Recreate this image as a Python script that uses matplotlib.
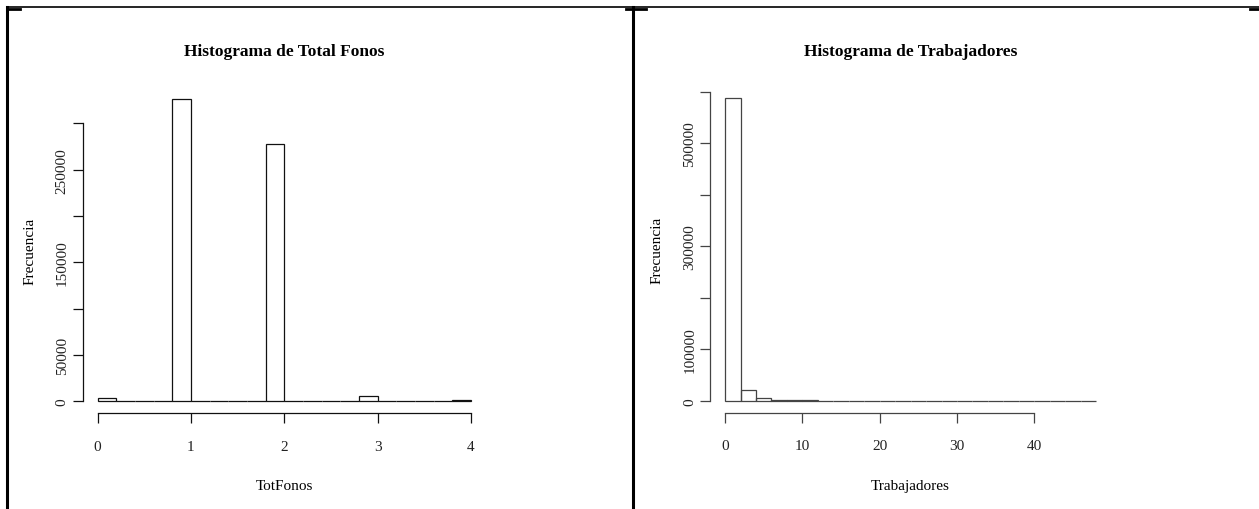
import numpy as np
import matplotlib
matplotlib.use("Agg")
import matplotlib.pyplot as plt

plt.rcParams['font.family'] = ['Liberation Serif', 'DejaVu Serif']

# histogram of TotFonos (bins of width 0.2 from 0 to 4)
fonos_edges = [0.0, 0.2, 0.4, 0.6, 0.8, 1.0, 1.2, 1.4, 1.6, 1.8, 2.0,
               2.2, 2.4, 2.6, 2.8, 3.0, 3.2, 3.4, 3.6, 3.8, 4.0]
fonos_counts = [3200, 0, 0, 0, 326500, 0, 0, 0, 0, 277400,
                0, 0, 0, 0, 5400, 0, 0, 0, 0, 1000]
fonos_yticks = [0, 50000, 100000, 150000, 200000, 250000, 300000]
fonos_ylabels = ['0', '50000', '', '150000', '', '250000', '']
fonos_xticks = [0, 1, 2, 3, 4]

# histogram of Trabajadores (bins of width 2 from 0 to 48)
trab_edges = [0, 2, 4, 6, 8, 10, 12, 14, 16, 18, 20, 22, 24, 26, 28, 30,
              32, 34, 36, 38, 40, 42, 44, 46, 48]
trab_counts = [587200, 21500, 4600, 1600, 1000, 700, 0, 0, 0, 0, 0, 0,
               0, 0, 0, 0, 0, 0, 0, 0, 0, 0, 0, 5]
trab_yticks = [0, 100000, 200000, 300000, 400000, 500000, 600000]
trab_ylabels = ['0', '100000', '', '300000', '', '500000', '']
trab_xticks = [0, 10, 20, 30, 40]

W, H = 1259, 510
fig = plt.figure(figsize=(W / 100, H / 100), dpi=100)


def px_axes(x0, y0, x1, y1):
    # axes placed by pixel box (top-left origin)
    return fig.add_axes([x0 / W, 1 - y1 / H, (x1 - x0) / W, (y1 - y0) / H])


def r_hist(ax, edges, counts, xticks, yticks, ylabels, title, xlabel, col):
    edges = np.array(edges, dtype=float)
    counts = np.array(counts, dtype=float)
    ax.bar(edges[:-1], counts, width=np.diff(edges), align='edge',
           fill=False, edgecolor=col, linewidth=0.9)
    xr = edges[-1] - edges[0]
    ax.set_xlim(edges[0] - 0.04 * xr, edges[-1] + 0.04 * xr)
    top = counts.max()
    ax.set_ylim(-0.04 * top, 1.04 * top)
    for s in ['top', 'right']:
        ax.spines[s].set_visible(False)
    ax.spines['left'].set_bounds(yticks[0], yticks[-1])
    ax.spines['bottom'].set_bounds(xticks[0], xticks[-1])
    for s in ['left', 'bottom']:
        ax.spines[s].set_color(col)
        ax.spines[s].set_linewidth(0.9)
    ax.set_xticks(xticks)
    ax.set_xticklabels([str(t) for t in xticks])
    ax.set_yticks(yticks)
    ax.set_yticklabels(ylabels, rotation=90, va='center')
    ax.tick_params(axis='x', length=7, width=0.9, color=col, pad=12,
                   labelsize=11, labelcolor='#222222')
    ax.tick_params(axis='y', length=7, width=0.9, color=col, pad=3,
                   labelsize=11, labelcolor='#222222')
    ax.set_title(title, fontsize=12.5, fontweight='bold', pad=0, y=1.097)
    ax.set_xlabel(xlabel, fontsize=11, labelpad=19)
    ax.set_ylabel('Frecuencia', fontsize=11, labelpad=14)
    ax.patch.set_visible(False)


ax1 = px_axes(82.7, 87.7, 485.8, 414.4)
r_hist(ax1, fonos_edges, fonos_counts, fonos_xticks, fonos_yticks,
       fonos_ylabels, 'Histograma de Total Fonos', 'TotFonos', '#111111')

ax2 = px_axes(710.2, 87.2, 1111.0, 413.8)
r_hist(ax2, trab_edges, trab_counts, trab_xticks, trab_yticks,
       trab_ylabels, 'Histograma de Trabajadores', 'Trabajadores', '#444444')

# table borders around the two panels
frame = fig.add_axes([0, 0, 1, 1])
frame.set_xlim(0, W)
frame.set_ylim(H, 0)
frame.axis('off')
frame.patch.set_visible(False)
frame.plot([7, W], [8, 8], color='black', lw=1.2)
frame.plot([7, 7], [8, H], color='black', lw=2.2)
frame.plot([633, 633], [8, H], color='black', lw=2.2)
frame.plot([7, 20], [9.5, 9.5], color='black', lw=2)
frame.plot([626, 646], [9.5, 9.5], color='black', lw=2)
frame.plot([1250, W], [9.5, 9.5], color='black', lw=2)

fig.savefig('out.png', dpi=100)
